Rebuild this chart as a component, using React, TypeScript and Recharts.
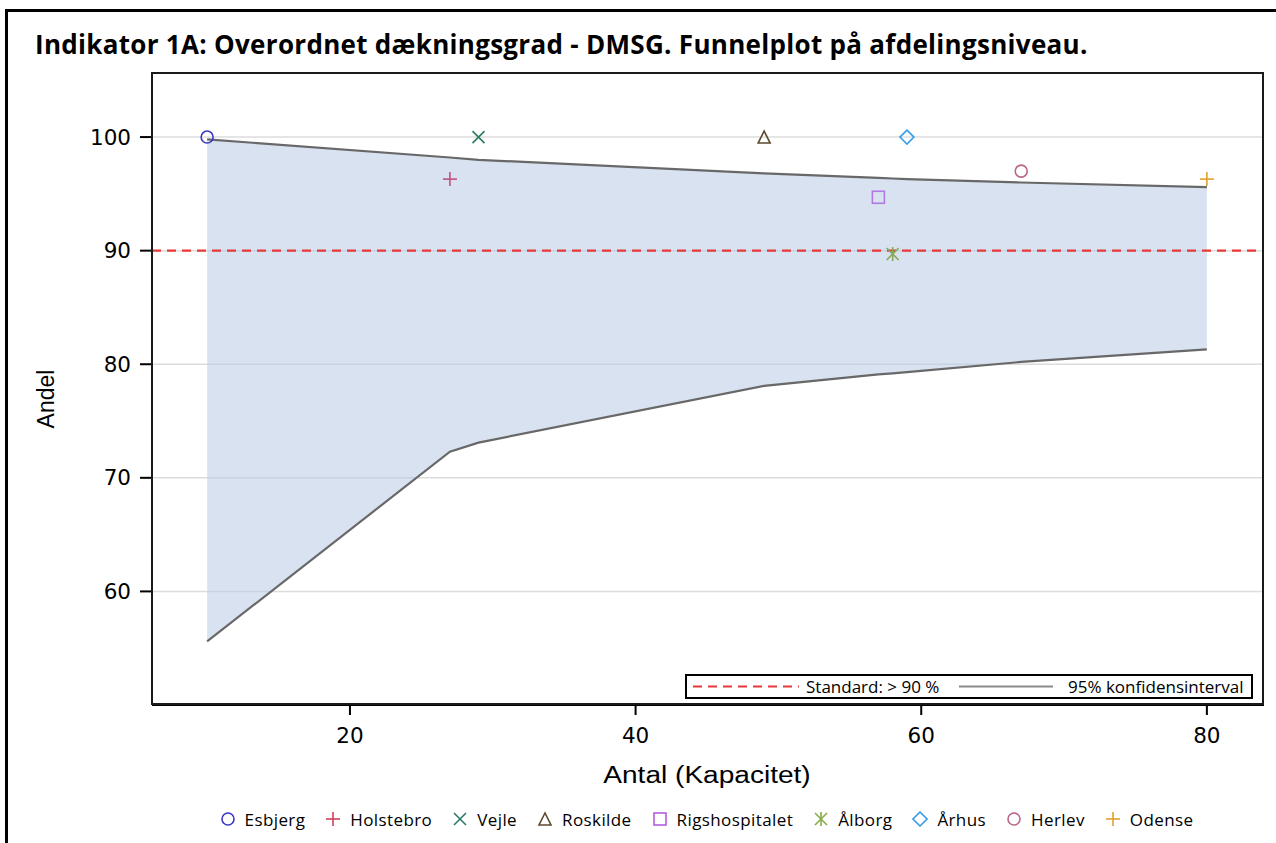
import React from 'react';
import {
  ComposedChart,
  Area,
  Line,
  Scatter,
  XAxis,
  YAxis,
  CartesianGrid,
  ReferenceLine,
} from 'recharts';

// Funnel limits (95% confidence interval) evaluated at each department's volume
const funnelCapacity = [10, 27, 29, 49, 57, 58, 59, 67, 80];
const upperLimit = [99.8, 98.2, 98.0, 96.8, 96.4, 96.35, 96.3, 96.0, 95.6];
const lowerLimit = [55.6, 72.3, 73.1, 78.1, 79.1, 79.2, 79.3, 80.2, 81.3];

// Departments: volume (Antal) and coverage share (Andel)
const departments = ['Esbjerg', 'Holstebro', 'Vejle', 'Roskilde', 'Rigshospitalet', 'Ålborg', 'Århus', 'Herlev', 'Odense'];
const departmentCapacity = [10, 27, 29, 49, 57, 58, 59, 67, 80];
const departmentShare = [100, 96.3, 100, 100, 94.7, 89.7, 100, 97.0, 96.3];

const standardLevel = 90;

const xTicks = [20, 40, 60, 80];
const yTicks = [60, 70, 80, 90, 100];

type MarkerKind = 'circle' | 'plus' | 'cross' | 'triangle' | 'square' | 'asterisk' | 'diamond';

const markerKinds: MarkerKind[] = ['circle', 'plus', 'cross', 'triangle', 'square', 'asterisk', 'diamond', 'circle', 'plus'];
const markerColors = ['#3a3ac4', '#c0507a', '#2a7a66', '#5c4a2e', '#b07ae0', '#88a85a', '#3a9ee6', '#b8668a', '#e0a030'];
const legendColors = ['#3a3ac4', '#d0405a', '#2a7a66', '#5c4a2e', '#b45ee0', '#88aa4a', '#3a9ee6', '#b8668a', '#e0a030'];

const bandData = funnelCapacity.map((x, i) => ({
  x,
  band: [lowerLimit[i], upperLimit[i]],
  upper: upperLimit[i],
  lower: lowerLimit[i],
}));

const departmentData = departments.map((name, i) => [
  { x: departmentCapacity[i], y: departmentShare[i], name },
]);

function Marker({ kind, color, cx, cy, s = 6 }: { kind: MarkerKind; color: string; cx: number; cy: number; s?: number }) {
  const sw = 1.6;
  switch (kind) {
    case 'circle':
      return <circle cx={cx} cy={cy} r={s} fill="none" stroke={color} strokeWidth={sw} />;
    case 'plus':
      return (
        <g stroke={color} strokeWidth={sw}>
          <line x1={cx - s - 1} y1={cy} x2={cx + s + 1} y2={cy} />
          <line x1={cx} y1={cy - s - 1} x2={cx} y2={cy + s + 1} />
        </g>
      );
    case 'cross':
      return (
        <g stroke={color} strokeWidth={sw}>
          <line x1={cx - s} y1={cy - s} x2={cx + s} y2={cy + s} />
          <line x1={cx - s} y1={cy + s} x2={cx + s} y2={cy - s} />
        </g>
      );
    case 'triangle':
      return (
        <polygon
          points={`${cx},${cy - s} ${cx - s},${cy + s} ${cx + s},${cy + s}`}
          fill="none"
          stroke={color}
          strokeWidth={sw}
        />
      );
    case 'square':
      return <rect x={cx - s} y={cy - s} width={2 * s} height={2 * s} fill="none" stroke={color} strokeWidth={sw} />;
    case 'asterisk':
      return (
        <g stroke={color} strokeWidth={sw}>
          <line x1={cx - s} y1={cy - s} x2={cx + s} y2={cy + s} />
          <line x1={cx - s} y1={cy + s} x2={cx + s} y2={cy - s} />
          <line x1={cx} y1={cy - s - 1} x2={cx} y2={cy + s + 1} />
        </g>
      );
    case 'diamond':
      return (
        <polygon
          points={`${cx},${cy - s - 1} ${cx + s + 1},${cy} ${cx},${cy + s + 1} ${cx - s - 1},${cy}`}
          fill="none"
          stroke={color}
          strokeWidth={sw}
        />
      );
    default:
      return null;
  }
}

const tickFont = { fontFamily: "'DejaVu Sans', sans-serif", fontSize: 21.5, fill: '#000' };
const labelFont = "'Liberation Sans', Arial, sans-serif";
const legendFont = "'Open Sans', sans-serif";

export default function App() {
  return (
    <div
      style={{
        position: 'absolute',
        left: 0,
        top: 0,
        width: 1276,
        height: 843,
        background: '#fff',
        overflow: 'hidden',
      }}
    >
      {/* outer frame */}
      <div
        style={{
          position: 'absolute',
          left: 5,
          top: 9,
          width: 1290,
          height: 860,
          borderLeft: '3px solid #000',
          borderTop: '3px solid #000',
        }}
      />
      <div
        style={{
          position: 'absolute',
          left: 35,
          top: 26,
          fontFamily: legendFont,
          fontWeight: 700,
          fontSize: 26,
          letterSpacing: 0.3,
          color: '#000',
          whiteSpace: 'nowrap',
        }}
      >
        Indikator 1A: Overordnet dækningsgrad - DMSG. Funnelplot på afdelingsniveau.
      </div>

      <div style={{ position: 'absolute', left: 0, top: 0 }}>
        <ComposedChart
          width={1276}
          height={843}
          data={bandData}
          margin={{ top: 73, right: 12, bottom: 98, left: 92 }}
        >
          <CartesianGrid horizontal vertical={false} stroke="#dcdcdc" strokeWidth={1.5} />
          <XAxis
            type="number"
            dataKey="x"
            domain={[6.14, 84]}
            ticks={xTicks}
            allowDataOverflow
            height={40}
            tick={tickFont}
            tickSize={10}
            tickMargin={13}
            axisLine={{ stroke: '#000', strokeWidth: 2 }}
            tickLine={{ stroke: '#000', strokeWidth: 2 }}
          />
          <YAxis
            type="number"
            domain={[50, 105.64]}
            ticks={yTicks}
            allowDataOverflow
            width={60}
            tick={tickFont}
            tickSize={12}
            tickMargin={9}
            axisLine={{ stroke: '#000', strokeWidth: 2 }}
            tickLine={{ stroke: '#000', strokeWidth: 2 }}
          />
          <ReferenceLine
            y={standardLevel}
            stroke="#e8393a"
            strokeWidth={2.2}
            strokeDasharray="9 6"
          />
          <Area
            dataKey="band"
            type="linear"
            stroke="none"
            fill="#b9cbe4"
            fillOpacity={0.55}
            isAnimationActive={false}
            activeDot={false}
          />
          <Line
            dataKey="upper"
            type="linear"
            stroke="#686868"
            strokeWidth={2.2}
            dot={false}
            activeDot={false}
            isAnimationActive={false}
          />
          <Line
            dataKey="lower"
            type="linear"
            stroke="#686868"
            strokeWidth={2.2}
            dot={false}
            activeDot={false}
            isAnimationActive={false}
          />
          {departments.map((name, i) => (
            <Scatter
              key={name}
              name={name}
              data={departmentData[i]}
              dataKey="y"
              isAnimationActive={false}
              shape={(p: any) => <Marker kind={markerKinds[i]} color={markerColors[i]} cx={p.cx} cy={p.cy} />}
            />
          ))}
        </ComposedChart>
      </div>

      {/* plot frame */}
      <div
        style={{
          position: 'absolute',
          left: 151,
          top: 72,
          width: 1113,
          height: 633,
          border: '2px solid #1a1a1a',
          boxSizing: 'border-box',
          pointerEvents: 'none',
        }}
      />

      {/* axis titles */}
      <div
        style={{
          position: 'absolute',
          left: 707,
          top: 775,
          transform: 'translate(-50%, -50%) scaleX(1.22)',
          fontFamily: labelFont,
          fontSize: 23,
          color: '#000',
          whiteSpace: 'nowrap',
        }}
      >
        Antal (Kapacitet)
      </div>
      <div
        style={{
          position: 'absolute',
          left: 46,
          top: 399,
          transform: 'translate(-50%, -50%) rotate(-90deg)',
          fontFamily: labelFont,
          fontSize: 23,
          color: '#000',
          whiteSpace: 'nowrap',
        }}
      >
        Andel
      </div>

      {/* inset legend */}
      <div
        style={{
          position: 'absolute',
          left: 685,
          top: 674,
          width: 568,
          height: 25,
          border: '2px solid #000',
          boxSizing: 'border-box',
          background: '#fff',
          fontFamily: legendFont,
          fontSize: 17,
          lineHeight: '21px',
          color: '#000',
        }}
      >
        <svg width={564} height={21} style={{ position: 'absolute', left: 0, top: 0 }}>
          <line x1={6} y1={10.5} x2={112} y2={10.5} stroke="#e8393a" strokeWidth={2.2} strokeDasharray="9 6" />
          <line x1={272} y1={10.5} x2={366} y2={10.5} stroke="#8a8a8a" strokeWidth={2} />
        </svg>
        <span style={{ position: 'absolute', left: 119, top: 0, whiteSpace: 'nowrap' }}>Standard: &gt; 90 %</span>
        <span style={{ position: 'absolute', left: 381, top: 0, whiteSpace: 'nowrap' }}>95% konfidensinterval</span>
      </div>

      {/* department legend */}
      <div
        style={{
          position: 'absolute',
          left: 0,
          top: 807,
          width: 1413,
          height: 24,
          display: 'flex',
          justifyContent: 'center',
          alignItems: 'center',
          gap: 20,
          fontFamily: legendFont,
          fontSize: 17,
          letterSpacing: 0.4,
          color: '#000',
        }}
      >
        {departments.map((name, i) => (
          <div key={name} style={{ display: 'flex', alignItems: 'center', gap: 9 }}>
            <svg width={16} height={16}>
              <Marker kind={markerKinds[i]} color={legendColors[i]} cx={8} cy={8} s={6} />
            </svg>
            <span>{name}</span>
          </div>
        ))}
      </div>
    </div>
  );
}
